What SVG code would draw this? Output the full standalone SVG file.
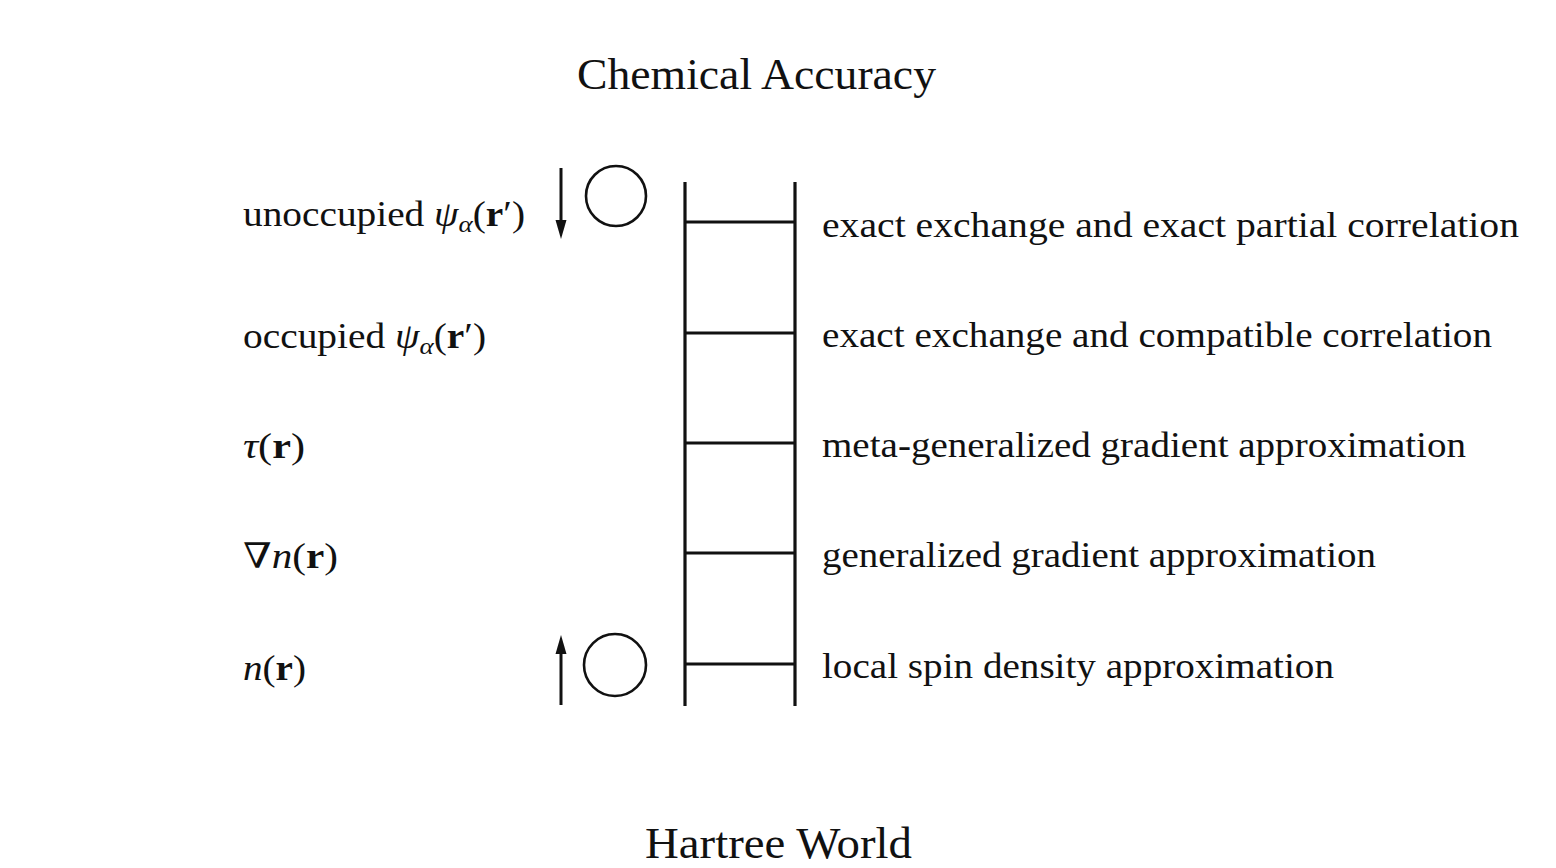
<svg xmlns="http://www.w3.org/2000/svg" width="1556" height="868" viewBox="0 0 1556 868">
<style>
text{font-family:"Liberation Serif","DejaVu Serif",serif;fill:#111;}
.t{font-size:44px;}
.l{font-size:35px;}
.m{font-style:italic;}
.b{font-weight:bold;}
.rail{stroke:#111;stroke-width:3.2;fill:none;}
.circ{stroke:#111;stroke-width:2.6;fill:none;}
.arr{stroke:#111;stroke-width:3;fill:none;}
.head{fill:#111;stroke:none;}
</style>
<rect width="1556" height="868" fill="#fff"/>
<g id="title-top"><text class="t" x="577" y="89" textLength="359" lengthAdjust="spacingAndGlyphs">Chemical Accuracy</text></g>
<g id="title-bottom"><text class="t" x="645" y="858" textLength="267" lengthAdjust="spacingAndGlyphs">Hartree World</text></g>
<g id="ladder">
<line class="rail" x1="685" y1="182" x2="685" y2="706"/>
<line class="rail" x1="795" y1="182" x2="795" y2="706"/>
<line class="rail" x1="685" y1="222" x2="795" y2="222"/>
<line class="rail" x1="685" y1="333" x2="795" y2="333"/>
<line class="rail" x1="685" y1="443" x2="795" y2="443"/>
<line class="rail" x1="685" y1="553" x2="795" y2="553"/>
<line class="rail" x1="685" y1="664" x2="795" y2="664"/>
</g>
<g id="left-labels">
<g id="lbl-unocc"><text class="l" x="243" y="226" textLength="282" lengthAdjust="spacingAndGlyphs">unoccupied <tspan class="m">ψ</tspan><tspan class="m" font-size="24" dy="6">α</tspan><tspan dy="-6">(</tspan><tspan class="b">r</tspan>′)</text></g>
<g id="lbl-occ"><text class="l" x="243" y="348" textLength="243" lengthAdjust="spacingAndGlyphs">occupied <tspan class="m">ψ</tspan><tspan class="m" font-size="24" dy="6">α</tspan><tspan dy="-6">(</tspan><tspan class="b">r</tspan>′)</text></g>
<g id="lbl-tau"><text class="l" x="243" y="458" textLength="62" lengthAdjust="spacingAndGlyphs"><tspan class="m">τ</tspan>(<tspan class="b">r</tspan>)</text></g>
<g id="lbl-grad"><text class="l" x="243" y="568" textLength="95" lengthAdjust="spacingAndGlyphs">∇<tspan class="m">n</tspan>(<tspan class="b">r</tspan>)</text></g>
<g id="lbl-n"><text class="l" x="243" y="680" textLength="63" lengthAdjust="spacingAndGlyphs"><tspan class="m">n</tspan>(<tspan class="b">r</tspan>)</text></g>
</g>
<g id="right-labels">
<g id="rung5"><text class="l" x="822" y="237" textLength="697" lengthAdjust="spacingAndGlyphs">exact exchange and exact partial correlation</text></g>
<g id="rung4"><text class="l" x="822" y="347" textLength="670" lengthAdjust="spacingAndGlyphs">exact exchange and compatible correlation</text></g>
<g id="rung3"><text class="l" x="822" y="457" textLength="644" lengthAdjust="spacingAndGlyphs">meta-generalized gradient approximation</text></g>
<g id="rung2"><text class="l" x="822" y="567" textLength="554" lengthAdjust="spacingAndGlyphs">generalized gradient approximation</text></g>
<g id="rung1"><text class="l" x="822" y="678" textLength="512" lengthAdjust="spacingAndGlyphs">local spin density approximation</text></g>
</g>
<g id="circle-top"><circle class="circ" cx="616" cy="196" r="30"/></g>
<g id="circle-bottom"><circle class="circ" cx="615" cy="665" r="31"/></g>
<g id="connectors">
<line class="arr" x1="561" y1="168" x2="561" y2="224"/>
<path class="head" d="M555.5,220 L566.5,220 L561,239 z"/>
<line class="arr" x1="561" y1="705" x2="561" y2="650"/>
<path class="head" d="M555.5,654 L566.5,654 L561,635 z"/>
</g>
</svg>
